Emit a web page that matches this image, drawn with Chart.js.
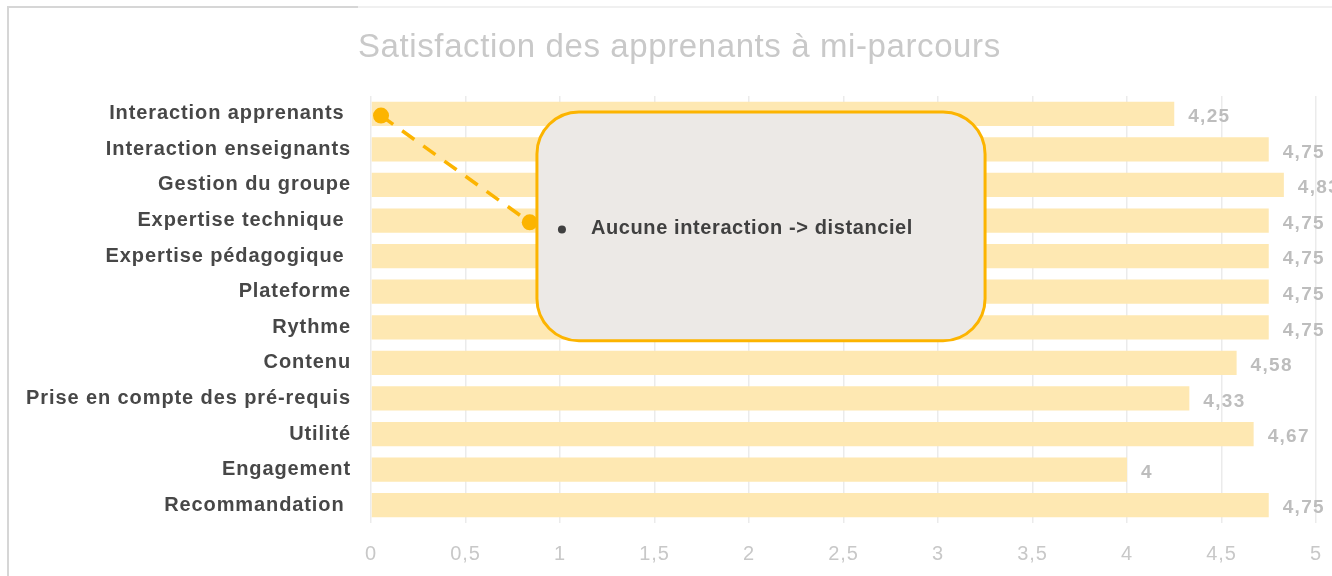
<!DOCTYPE html>
<html>
<head>
<meta charset="utf-8">
<script src="https://cdn.jsdelivr.net/npm/chart.js@4.4.1/dist/chart.umd.min.js"></script>
<style>
  html, body { margin: 0; padding: 0; background: #ffffff; }
  #wrap { position: relative; width: 1332px; height: 576px; }
  canvas { display: block; }
</style>
</head>
<body>
<div id="wrap"><canvas id="c" width="1332" height="576"></canvas></div>
<script>
const titleText = 'Satisfaction des apprenants à mi-parcours';
const categories = [
  'Interaction apprenants ',
  'Interaction enseignants',
  'Gestion du groupe',
  'Expertise technique ',
  'Expertise pédagogique ',
  'Plateforme',
  'Rythme',
  'Contenu',
  'Prise en compte des pré-requis',
  'Utilité',
  'Engagement',
  'Recommandation '
];
const scores = [4.25, 4.75, 4.83, 4.75, 4.75, 4.75, 4.75, 4.58, 4.33, 4.67, 4, 4.75];
const xTicks = [0, 0.5, 1, 1.5, 2, 2.5, 3, 3.5, 4, 4.5, 5];
const calloutText = 'Aucune interaction -> distanciel';
// callout anchors in data units (x value, category index)
const calloutStart = [0.053, 0.05];
const calloutEnd = [0.84, 3.05];
const calloutBox = { x0: 0.878, x1: 3.249, y0: -0.05, y1: 6.38 };

const fmt = v => String(v).replace('.', ',');
const FONT = '"Liberation Sans", Arial, Helvetica, sans-serif';

const decorPlugin = {
  id: 'decor',
  beforeDraw(chart) {
    const ctx = chart.ctx;
    ctx.save();
    ctx.fillStyle = '#ffffff';
    ctx.fillRect(0, 0, chart.width, chart.height);
    // frame lines
    ctx.strokeStyle = '#f0f0f0';
    ctx.lineWidth = 2;
    ctx.beginPath(); ctx.moveTo(358, 7); ctx.lineTo(1332, 7); ctx.stroke();
    ctx.strokeStyle = '#d6d6d6';
    ctx.beginPath(); ctx.moveTo(8, 576); ctx.lineTo(8, 7); ctx.lineTo(358, 7); ctx.stroke();
    // title
    ctx.fillStyle = '#c9c9c9';
    ctx.font = '33px ' + FONT;
    ctx.letterSpacing = '0.6px';
    ctx.textAlign = 'left';
    ctx.textBaseline = 'middle';
    ctx.fillText(titleText, 358, 48);
    ctx.restore();
    // letter spacing for axis labels
    ctx.letterSpacing = '0.9px';
  },
  afterDatasetsDraw(chart) {
    const ctx = chart.ctx;
    const xs = chart.scales.x, ys = chart.scales.y;
    ctx.save();
    // value labels
    ctx.fillStyle = '#bdbdbd';
    ctx.font = 'bold 19px ' + FONT;
    ctx.letterSpacing = '1.3px';
    ctx.textAlign = 'left';
    ctx.textBaseline = 'middle';
    const meta = chart.getDatasetMeta(0);
    meta.data.forEach((bar, i) => {
      ctx.fillText(fmt(scores[i]), bar.x + 14, bar.y + 3);
    });
    // callout connector
    const orange = '#fcb400';
    const sx = xs.getPixelForValue(calloutStart[0]), sy = ys.getPixelForValue(calloutStart[1]);
    const ex = xs.getPixelForValue(calloutEnd[0]), ey = ys.getPixelForValue(calloutEnd[1]);
    ctx.strokeStyle = orange;
    ctx.lineWidth = 3.5;
    ctx.setLineDash([15, 11]);
    ctx.beginPath(); ctx.moveTo(sx, sy); ctx.lineTo(ex, ey); ctx.stroke();
    ctx.setLineDash([]);
    ctx.fillStyle = orange;
    ctx.beginPath(); ctx.arc(sx, sy, 8, 0, Math.PI * 2); ctx.fill();
    ctx.beginPath(); ctx.arc(ex, ey, 8, 0, Math.PI * 2); ctx.fill();
    // callout box
    const bx0 = xs.getPixelForValue(calloutBox.x0), bx1 = xs.getPixelForValue(calloutBox.x1);
    const by0 = ys.getPixelForValue(calloutBox.y0), by1 = ys.getPixelForValue(calloutBox.y1);
    ctx.beginPath();
    ctx.roundRect(bx0, by0, bx1 - bx0, by1 - by0, 42);
    ctx.fillStyle = '#ece9e6';
    ctx.fill();
    ctx.lineWidth = 3;
    ctx.strokeStyle = orange;
    ctx.stroke();
    // callout text
    const cy = (by0 + by1) / 2 + 2;
    ctx.fillStyle = '#404040';
    ctx.beginPath(); ctx.arc(bx0 + 25, cy + 1, 4, 0, Math.PI * 2); ctx.fill();
    ctx.font = 'bold 20px ' + FONT;
    ctx.letterSpacing = '0.6px';
    ctx.textAlign = 'left';
    ctx.textBaseline = 'middle';
    ctx.fillText(calloutText, bx0 + 54, cy);
    ctx.restore();
  }
};

new Chart(document.getElementById('c'), {
  type: 'bar',
  data: {
    labels: categories,
    datasets: [{
      data: scores,
      backgroundColor: '#fee8b2',
      borderWidth: 0,
      barPercentage: 0.68,
      categoryPercentage: 1
    }]
  },
  options: {
    indexAxis: 'y',
    responsive: false,
    animation: false,
    events: [],
    layout: { padding: { top: 96, right: 16, left: 0, bottom: 0 } },
    plugins: { legend: { display: false }, title: { display: false }, tooltip: { enabled: false } },
    scales: {
      x: {
        min: 0, max: 5,
        afterBuildTicks(scale) { scale.ticks = xTicks.map(v => ({ value: v })); },
        afterFit(scale) { scale.height = 53; scale.paddingLeft = 0; scale.paddingRight = 0; },
        grid: { color: '#ebebeb', lineWidth: 1.5, drawTicks: false },
        border: { display: false },
        ticks: {
          padding: 19,
          color: '#c8c8c8',
          font: { family: FONT, size: 20 },
          callback: v => fmt(v)
        }
      },
      y: {
        afterFit(scale) { scale.width = 371; },
        grid: { display: false, drawTicks: false },
        border: { display: false },
        ticks: {
          padding: 20,
          color: '#474747',
          font: { family: FONT, size: 20, weight: 'bold' }
        }
      }
    }
  },
  plugins: [decorPlugin]
});
</script>
</body>
</html>
